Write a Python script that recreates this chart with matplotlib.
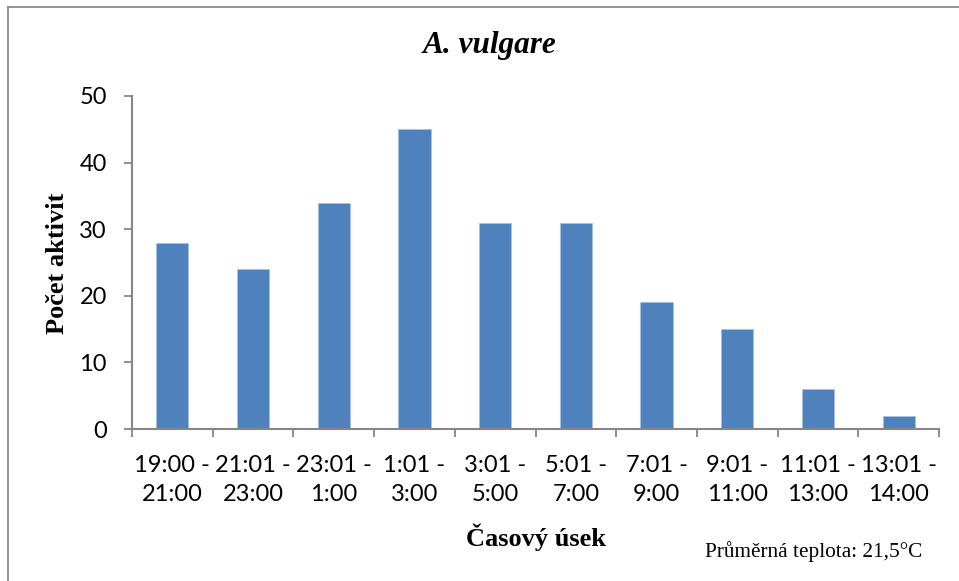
import numpy as np
import matplotlib
matplotlib.use('Agg')
import matplotlib.pyplot as plt
from matplotlib.lines import Line2D

W, H = 959, 581

# data
intervals = ['19:00 -\n21:00', '21:01 -\n23:00', '23:01 -\n1:00', '1:01 -\n3:00',
             '3:01 -\n5:00', '5:01 -\n7:00', '7:01 -\n9:00', '9:01 -\n11:00',
             '11:01 -\n13:00', '13:01 -\n14:00']
activity = [28, 24, 34, 45, 31, 31, 19, 15, 6, 2]

bar_color = '#4F81BD'
axis_color = '#868686'
tick_font = 'Lato'
serif = 'Liberation Serif'

fig = plt.figure(figsize=(W/100., H/100.), dpi=100)
ax = fig.add_axes([132./W, 1-429./H, (939.-132.)/W, (429.-96.)/H])

x = np.arange(len(activity))
ax.bar(x, activity, width=0.4, color=bar_color, edgecolor='#a9c1e0', linewidth=0.6, zorder=2)

ax.set_xlim(-0.5, len(activity)-0.5)
ax.set_ylim(0, 50)
ax.set_yticks(range(0, 51, 10))

# category labels on major ticks, tick marks on category borders
ax.set_xticks(x)
ax.set_xticklabels(intervals, fontfamily=tick_font, fontsize=17, linespacing=1.45)
ax.set_xticks(np.arange(-0.5, len(activity), 1.0), minor=True)
ax.tick_params(axis='x', which='major', length=0, pad=19)
ax.tick_params(axis='x', which='minor', length=6, width=1.3, color=axis_color, direction='out')
ax.tick_params(axis='y', length=6, width=1.3, color=axis_color, direction='out', pad=12)
for lab in ax.get_yticklabels():
    lab.set_fontfamily(tick_font)
    lab.set_fontsize(17)

for s in ['top', 'right']:
    ax.spines[s].set_visible(False)
for s in ['left', 'bottom']:
    ax.spines[s].set_color(axis_color)
    ax.spines[s].set_linewidth(1.5)

# titles
fig.text(489./W, 1-46./H, 'A. vulgare', ha='center', va='center',
         fontfamily=serif, fontsize=22.5, fontweight='bold', fontstyle='italic')
fig.text(536./W, 1-537./H, 'Časový úsek', ha='center', va='center',
         fontfamily=serif, fontsize=19, fontweight='bold')
fig.text(58./W, 1-263./H, 'Počet aktivit', ha='center', va='center', rotation=90,
         fontfamily=serif, fontsize=19, fontweight='bold')
fig.text(922./W, 1-557./H, 'Průměrná teplota: 21,5°C', ha='right', va='baseline',
         fontfamily=serif, fontsize=15.3)

# chart frame
fig.add_artist(Line2D([7.5/W, 7.5/W], [0, 1-6.5/H], color='#8c8c8c', lw=1.3))
fig.add_artist(Line2D([7.5/W, 1], [1-6.5/H, 1-6.5/H], color='#8c8c8c', lw=1.3))

fig.savefig('out.png', dpi=100)
